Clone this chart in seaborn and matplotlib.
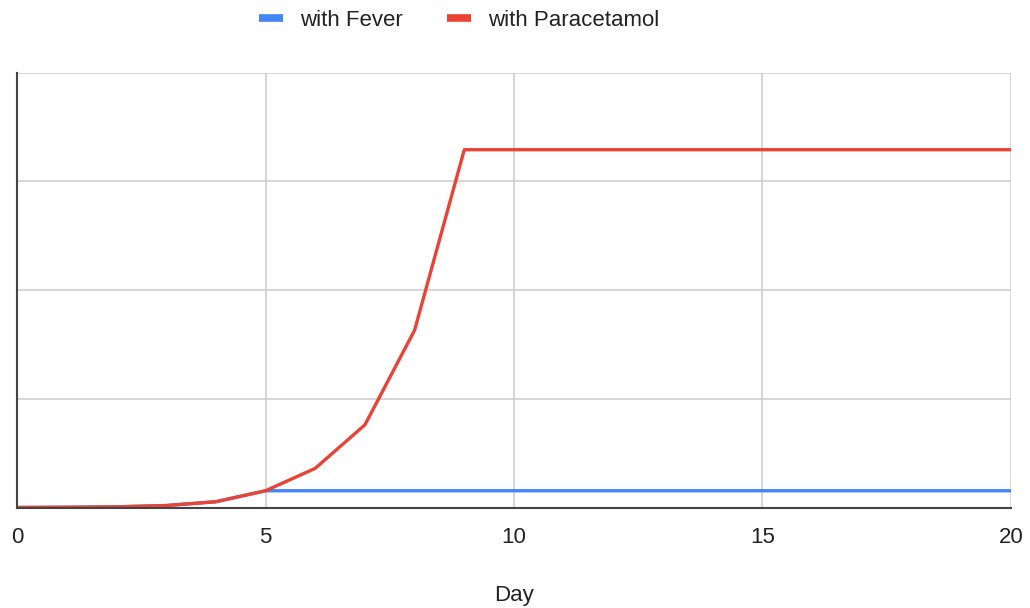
import matplotlib
matplotlib.use("Agg")
import matplotlib.pyplot as plt
import seaborn as sns
import pandas as pd
from matplotlib.lines import Line2D

# data (y in grid units, axis has no labels)
days = list(range(0, 21))
with_fever = [0.0, 0.002, 0.006, 0.018, 0.053, 0.154] + [0.154] * 15
with_paracetamol = [0.0, 0.002, 0.006, 0.018, 0.053, 0.154, 0.36, 0.76, 1.63, 3.29] + [3.29] * 11
series_names = ["with Fever", "with Paracetamol"]
colors = ["#4285F4", "#EA4335"]

df = pd.DataFrame({
    "Day": days * 2,
    "value": with_fever + with_paracetamol,
    "series": [series_names[0]] * len(days) + [series_names[1]] * len(days),
})

sns.set_style("white")
plt.rcParams["font.family"] = ["Liberation Sans", "DejaVu Sans"]

fig = plt.figure(figsize=(10.3, 6.08), dpi=100)
ax = fig.add_axes([17 / 1030, 1 - 507.5 / 608, (1011 - 17) / 1030, (507.5 - 72.5) / 608])

sns.lineplot(data=df, x="Day", y="value", hue="series", palette=colors,
             hue_order=series_names, linewidth=2.4, ax=ax, legend=False)

ax.set_xlim(0, 20)
ax.set_ylim(0, 4)
ax.set_xticks([0, 5, 10, 15, 20])
ax.set_yticks([0, 1, 2, 3, 4])
ax.set_yticklabels([])
ax.grid(True, color="#cccccc", linewidth=1.1)
ax.set_axisbelow(True)
ax.tick_params(axis="both", length=0)
ax.tick_params(axis="x", labelsize=16, pad=14, colors="#222222")
ax.set_ylabel("")
ax.set_xlabel("Day", fontsize=16, labelpad=27, color="#222222")

for side in ["top", "right"]:
    ax.spines[side].set_visible(False)
ax.spines["left"].set_color("#444444")
ax.spines["left"].set_linewidth(1.5)
ax.spines["bottom"].set_color("#444444")
ax.spines["bottom"].set_linewidth(1.5)

handles = [Line2D([0], [0], color=c, linewidth=5.5, solid_capstyle="butt") for c in colors]
fig.legend(handles, series_names, loc="center", bbox_to_anchor=(459 / 1030, 1 - 20 / 608),
           ncol=2, frameon=False, fontsize=16, handlelength=1.1, handletextpad=0.75,
           columnspacing=2.0, labelcolor="#222222")

fig.savefig("out.png", dpi=100)
